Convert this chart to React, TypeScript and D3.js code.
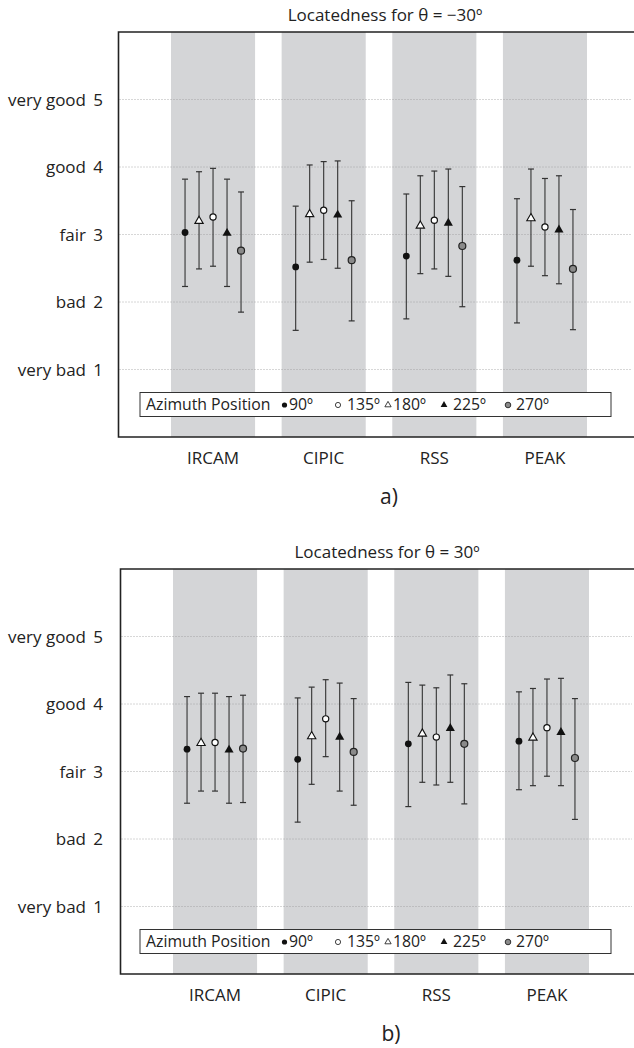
import React from 'react';
import * as d3 from 'd3';

// categories (HRTF sets) and azimuth series
const categories = ['IRCAM', 'CIPIC', 'RSS', 'PEAK'];
// order in which the markers sit inside each gray band
const plotOrder = ['90', '180', '135', '225', '270'];

const yTicks = [1, 2, 3, 4, 5];
const yTickLabels = ['very bad', 'bad', 'fair', 'good', 'very good'];

// panel a) theta = -30
const a90Mean = [3.03, 2.52, 2.68, 2.62];
const a90Hi = [3.82, 3.42, 3.6, 3.53];
const a90Lo = [2.23, 1.58, 1.75, 1.69];
const a135Mean = [3.26, 3.36, 3.21, 3.11];
const a135Hi = [3.98, 4.08, 3.94, 3.83];
const a135Lo = [2.53, 2.63, 2.49, 2.39];
const a180Mean = [3.2, 3.3, 3.13, 3.24];
const a180Hi = [3.93, 4.03, 3.87, 3.97];
const a180Lo = [2.49, 2.59, 2.42, 2.53];
const a225Mean = [3.02, 3.29, 3.17, 3.07];
const a225Hi = [3.82, 4.09, 3.97, 3.87];
const a225Lo = [2.23, 2.5, 2.38, 2.27];
const a270Mean = [2.76, 2.62, 2.83, 2.49];
const a270Hi = [3.63, 3.5, 3.71, 3.37];
const a270Lo = [1.85, 1.72, 1.93, 1.59];

// panel b) theta = 30
const b90Mean = [3.33, 3.18, 3.41, 3.45];
const b90Hi = [4.11, 4.09, 4.32, 4.18];
const b90Lo = [2.53, 2.25, 2.48, 2.73];
const b135Mean = [3.43, 3.78, 3.51, 3.65];
const b135Hi = [4.16, 4.36, 4.24, 4.37];
const b135Lo = [2.71, 3.22, 2.8, 2.93];
const b180Mean = [3.42, 3.52, 3.56, 3.5];
const b180Hi = [4.16, 4.25, 4.28, 4.23];
const b180Lo = [2.71, 2.81, 2.84, 2.79];
const b225Mean = [3.32, 3.51, 3.64, 3.58];
const b225Hi = [4.11, 4.31, 4.43, 4.38];
const b225Lo = [2.53, 2.71, 2.84, 2.79];
const b270Mean = [3.34, 3.29, 3.41, 3.2];
const b270Hi = [4.13, 4.08, 4.3, 4.08];
const b270Lo = [2.54, 2.5, 2.52, 2.29];

// legend entries, in legend order
const legendSeries = ['90', '135', '180', '225', '270'];
const legendLabels = ['90º', '135º', '180º', '225º', '270º'];

type Stat = { mean: number[]; hi: number[]; lo: number[] };
type PanelData = { [k: string]: Stat };

const panelA: PanelData = {
  '90': { mean: a90Mean, hi: a90Hi, lo: a90Lo },
  '135': { mean: a135Mean, hi: a135Hi, lo: a135Lo },
  '180': { mean: a180Mean, hi: a180Hi, lo: a180Lo },
  '225': { mean: a225Mean, hi: a225Hi, lo: a225Lo },
  '270': { mean: a270Mean, hi: a270Hi, lo: a270Lo },
};
const panelB: PanelData = {
  '90': { mean: b90Mean, hi: b90Hi, lo: b90Lo },
  '135': { mean: b135Mean, hi: b135Hi, lo: b135Lo },
  '180': { mean: b180Mean, hi: b180Hi, lo: b180Lo },
  '225': { mean: b225Mean, hi: b225Hi, lo: b225Lo },
  '270': { mean: b270Mean, hi: b270Hi, lo: b270Lo },
};

const FONT = "'Open Sans', 'Noto Sans', sans-serif";
const triPath = (size: number) => d3.symbol().type(d3.symbolTriangle).size(size)() as string;

const Marker: React.FC<{ s: string; x: number; y: number; small?: boolean }> = ({ s, x, y, small }) => {
  if (s === '90') return <circle cx={x} cy={y} r={small ? 2.6 : 3.4} fill="#111" />;
  if (s === '135')
    return <circle cx={x} cy={y} r={small ? 2.6 : 3.1} fill="#fff" stroke="#111" strokeWidth={small ? 0.8 : 1.2} />;
  if (s === '180')
    return (
      <path
        d={triPath(small ? 17 : 30)}
        transform={`translate(${x},${y})`}
        fill="#fff"
        stroke="#111"
        strokeWidth={small ? 0.8 : 1.1}
      />
    );
  if (s === '225') return <path d={triPath(small ? 20 : 36)} transform={`translate(${x},${y})`} fill="#111" />;
  return <circle cx={x} cy={y} r={small ? 2.8 : 3.5} fill="#8a8a8a" stroke="#222" strokeWidth={small ? 0.9 : 1.2} />;
};

// legend marker / label x positions
const legendMarkX = [284.5, 338, 388, 444, 508];
const legendTextX = [289, 347, 393, 453, 516];

const Panel: React.FC<{ data: PanelData; top: number; dx: number; title: string; caption: string }> = ({
  data,
  top,
  dx,
  title,
  caption,
}) => {
  const left = 118.5 + dx;
  const right = 640;
  const height = 405;
  const bottom = top + height;

  const y = d3.scaleLinear().domain([0, 6]).range([bottom, top]);
  const x = d3
    .scaleBand()
    .domain(categories)
    .range([171 + dx, 587 + dx])
    .paddingInner(0.24)
    .paddingOuter(0);
  const inner = d3.scalePoint().domain(plotOrder).range([-28, 28]);
  const bw = x.bandwidth();

  return (
    <g>
      <text x={385 + dx} y={top - 11} textAnchor="middle" fontSize={17} fontFamily={FONT} fill="#222">
        {title}
      </text>
      {categories.map((c) => (
        <rect key={c} x={x(c)} y={top} width={bw} height={height} fill="#d4d5d7" />
      ))}
      {yTicks.map((t, i) => (
        <g key={t}>
          <line x1={left + 1} x2={632} y1={y(t)} y2={y(t)} stroke="#999" strokeWidth={0.8} strokeDasharray="1 2" />
          <text x={86} y={y(t) + 6} textAnchor="end" fontSize={17} fontFamily={FONT} fill="#222">
            {yTickLabels[i]}
          </text>
          <text x={103} y={y(t) + 6} textAnchor="end" fontSize={17} fontFamily={FONT} fill="#222">
            {t}
          </text>
        </g>
      ))}
      {categories.map((c, ci) =>
        plotOrder.map((s) => {
          const cx = (x(c) as number) + bw / 2 + (inner(s) as number);
          const st = data[s];
          return (
            <g key={c + s}>
              <line x1={cx} x2={cx} y1={y(st.hi[ci])} y2={y(st.lo[ci])} stroke="#333" strokeWidth={1.1} />
              <line x1={cx - 3} x2={cx + 3} y1={y(st.hi[ci])} y2={y(st.hi[ci])} stroke="#333" strokeWidth={1.2} />
              <line x1={cx - 3} x2={cx + 3} y1={y(st.lo[ci])} y2={y(st.lo[ci])} stroke="#333" strokeWidth={1.2} />
              <Marker s={s} x={cx} y={y(st.mean[ci])} />
            </g>
          );
        })
      )}
      {/* legend */}
      <g fontFamily={FONT} fontSize={15.8} fill="#222">
        <rect x={140} y={top + 360.5} width={471} height={24} fill="#fff" stroke="#333" strokeWidth={1} />
        <text x={146} y={top + 377.5}>Azimuth Position</text>
        {legendSeries.map((s, i) => (
          <g key={s}>
            <Marker s={s} x={legendMarkX[i]} y={top + 373} small />
            <text x={legendTextX[i]} y={top + 377.5}>
              {legendLabels[i]}
            </text>
          </g>
        ))}
      </g>
      {/* frame: top, left, bottom (right edge falls outside the picture) */}
      <path
        d={`M${right},${top}H${left}V${bottom}H${right}`}
        fill="none"
        stroke="#222"
        strokeWidth={1.6}
      />
      {categories.map((c) => (
        <text
          key={c}
          x={(x(c) as number) + bw / 2}
          y={bottom + 27}
          textAnchor="middle"
          fontSize={17}
          fontFamily={FONT}
          fill="#222"
        >
          {c}
        </text>
      ))}
      <text x={389 + dx} y={bottom + 67} textAnchor="middle" fontSize={21} fontFamily={FONT} fill="#222">
        {caption}
      </text>
    </g>
  );
};

export default function App() {
  return (
    <svg width={634} height={1048} style={{ position: 'absolute', left: 0, top: 0, background: '#fff' }}>
      <Panel data={panelA} top={32} dx={0} title="Locatedness for θ = −30º" caption="a)" />
      <Panel data={panelB} top={569} dx={2} title="Locatedness for θ = 30º" caption="b)" />
    </svg>
  );
}
